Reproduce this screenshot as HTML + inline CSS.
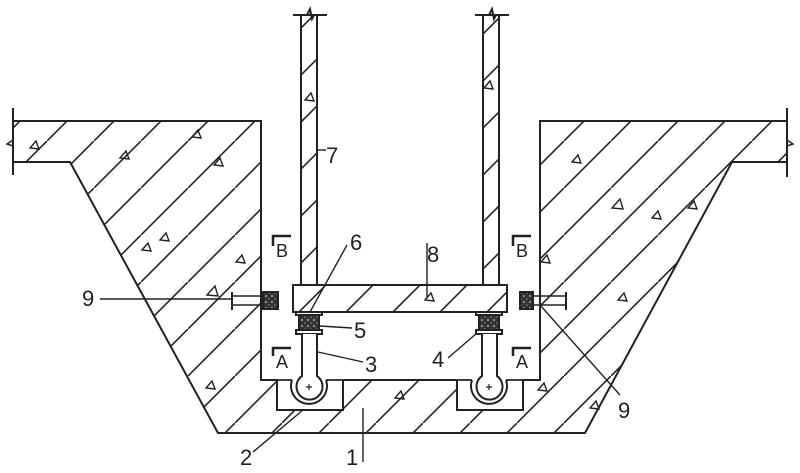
<!DOCTYPE html>
<html><head><meta charset="utf-8"><style>
html,body{margin:0;padding:0;background:#fff}
svg{display:block}
text{font-family:"Liberation Sans",sans-serif;fill:#222}
</style></head><body>
<svg width="800" height="473" viewBox="0 0 800 473" xmlns="http://www.w3.org/2000/svg">
<defs>
<pattern id="h" patternUnits="userSpaceOnUse" width="47" height="47">
<line x1="-2" y1="49" x2="49" y2="-2" stroke="#222" stroke-width="1.6"/>
</pattern>
<pattern id="d" patternUnits="userSpaceOnUse" width="6" height="6">
<rect width="6" height="6" fill="#333"/><circle cx="2" cy="2" r="1" fill="#aaa"/><circle cx="5" cy="5" r="0.8" fill="#888"/>
</pattern>
</defs>
<g stroke="#222" stroke-width="2" fill="none">
<path d="M13,121 L261,121 L261,380 L277,380 L277,410 L343,410 L343,380 L457,380 L457,410 L523,410 L523,380 L540,380 L540,121 L787,121 L787,162 L732,162 L585,433 L218,433 L70,162 L13,162 Z" fill="url(#h)"/>
<path d="M277,380 H292 M326,380 H343 M457,380 H472 M506,380 H523" stroke-width="1.8"/>
<rect x="301" y="15" width="16" height="270" fill="url(#h)"/>
<rect x="483" y="15" width="16" height="270" fill="url(#h)"/>
<rect x="293" y="285" width="214" height="27" fill="url(#h)"/>
<path d="M293,15 H307 L310,9 L312,19 L314,15 H327"/>
<path d="M475,15 H489 L492,9 L494,19 L496,15 H509"/>
<line x1="13" y1="108" x2="13" y2="175"/>
<path d="M13,140 L7,144 L13,146" stroke-width="1.5"/>
<line x1="787" y1="108" x2="787" y2="177"/>
<path d="M787,140 L793,144 L787,146" stroke-width="1.5"/>
<g>
<rect x="296" y="312" width="26" height="3" fill="#fff"/>
<rect x="299" y="315" width="20" height="15" fill="url(#d)"/>
<rect x="296" y="330" width="26" height="4" fill="#fff"/>
<rect x="476" y="312" width="26" height="3" fill="#fff"/>
<rect x="479" y="315" width="20" height="15" fill="url(#d)"/>
<rect x="476" y="330" width="26" height="4" fill="#fff"/>
</g>
<path d="M302,334 V376 A13,13 0 1 0 317,376 V334" fill="#fff"/>
<path d="M292,380 A18,18 0 1 0 326,380"/>
<path d="M482,334 V376 A13,13 0 1 0 497,376 V334" fill="#fff"/>
<path d="M472,380 A18,18 0 1 0 506,380"/>
<path d="M306,387 h6 M309,384 v6 M486,387 h6 M489,384 v6" stroke-width="1.2"/>
<rect x="263" y="292" width="15" height="17" fill="url(#d)"/>
<line x1="232" y1="296" x2="263" y2="296" stroke-width="1.4"/>
<line x1="232" y1="305" x2="263" y2="305" stroke-width="1.4"/>
<line x1="232" y1="292" x2="232" y2="310"/>
<rect x="520" y="292" width="13" height="17" fill="url(#d)"/>
<line x1="533" y1="296" x2="566" y2="296" stroke-width="1.4"/>
<line x1="533" y1="305" x2="566" y2="305" stroke-width="1.4"/>
<line x1="566" y1="292" x2="566" y2="310"/>
<path d="M273,246 V236 H291 M273,356 V348 H291 M513,246 V236 H531 M513,356 V348 H531" stroke-width="2.5"/>
<g stroke-width="1.4">
<line x1="100" y1="299" x2="232" y2="299"/>
<line x1="310" y1="312" x2="347" y2="245"/>
<line x1="427" y1="243" x2="427" y2="298"/>
<line x1="320" y1="326" x2="352" y2="328"/>
<line x1="318" y1="352" x2="363" y2="362"/>
<line x1="448" y1="358" x2="477" y2="333"/>
<line x1="253" y1="452" x2="303" y2="410"/>
<line x1="363" y1="408" x2="363" y2="462"/>
<line x1="540" y1="305" x2="620" y2="395"/>
<line x1="317" y1="150" x2="326" y2="150"/>
</g>
</g>
<g font-size="22">
<text x="82" y="306">9</text>
<text x="326" y="163">7</text>
<text x="350" y="250">6</text>
<text x="427" y="262">8</text>
<text x="354" y="338">5</text>
<text x="365" y="372">3</text>
<text x="432" y="367">4</text>
<text x="240" y="465">2</text>
<text x="346" y="465">1</text>
<text x="618" y="418">9</text>
</g>
<g font-size="18">
<text x="276" y="257">B</text>
<text x="516" y="257">B</text>
<text x="276" y="368">A</text>
<text x="516" y="368">A</text>
</g>
<g fill="none" stroke="#222" stroke-width="1.4">
<path d="M30,148 l6,-7 l3,8 z"/><path d="M120,158 l6,-7 l3,8 z"/><path d="M192,137 l6,-7 l3,8 z"/>
<path d="M214,165 l6,-7 l3,8 z"/><path d="M160,240 l6,-7 l3,8 z"/><path d="M142,250 l6,-7 l3,8 z"/>
<path d="M207,295 l8,-9 l3,10 z"/><path d="M236,262 l6,-7 l3,8 z"/><path d="M206,388 l6,-7 l3,8 z"/>
<path d="M305,100 l6,-7 l3,8 z"/><path d="M484,88 l6,-7 l3,8 z"/><path d="M425,300 l6,-7 l3,8 z"/>
<path d="M395,398 l6,-7 l3,8 z"/><path d="M572,162 l6,-7 l3,8 z"/><path d="M612,208 l8,-9 l3,10 z"/>
<path d="M652,218 l6,-7 l3,8 z"/><path d="M688,208 l6,-7 l3,8 z"/><path d="M541,262 l6,-7 l3,8 z"/>
<path d="M538,390 l6,-7 l3,8 z"/><path d="M618,300 l6,-7 l3,8 z"/><path d="M590,408 l6,-7 l3,8 z"/>
</g>
</svg>
</body></html>
